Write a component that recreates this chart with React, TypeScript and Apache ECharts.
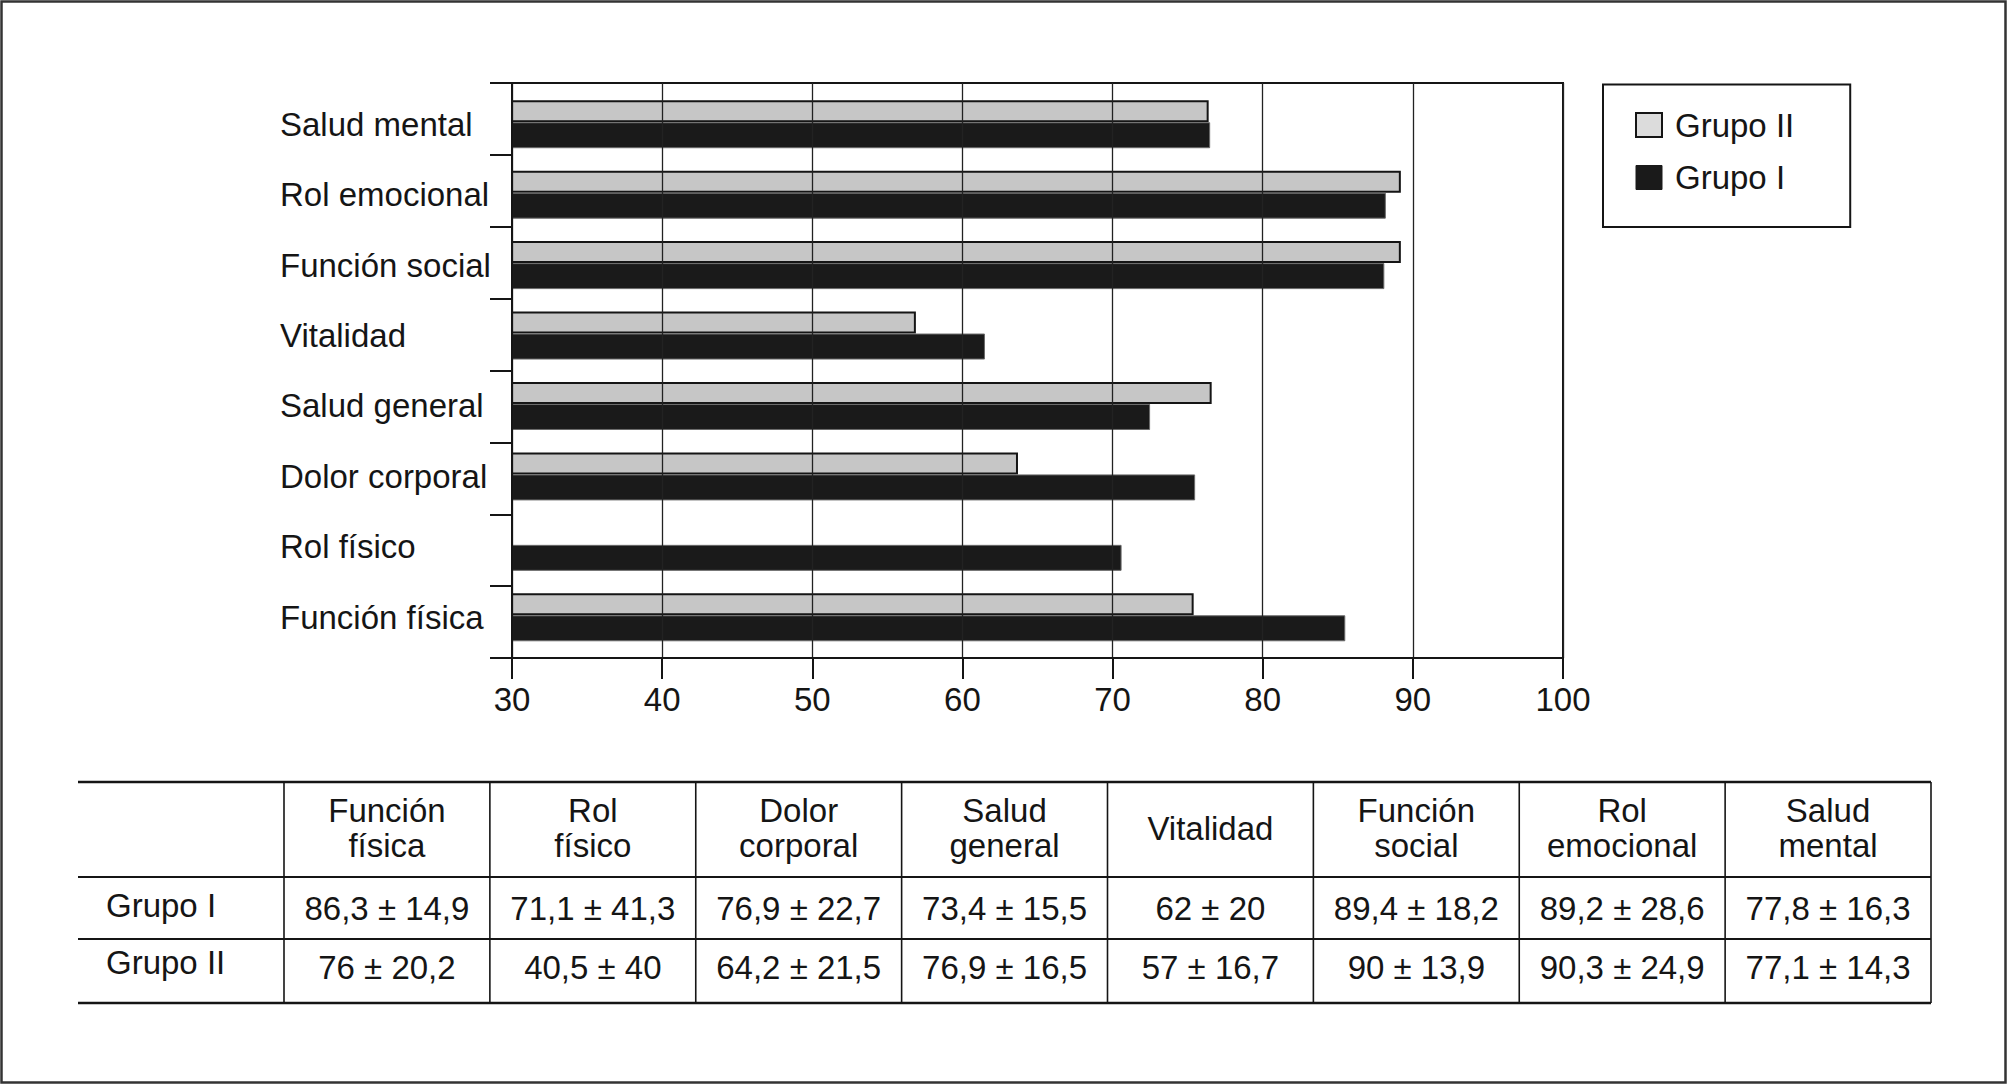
import React, { useEffect, useRef } from 'react';
import * as echarts from 'echarts';

const categories = [
  'Función física',
  'Rol físico',
  'Dolor corporal',
  'Salud general',
  'Vitalidad',
  'Función social',
  'Rol emocional',
  'Salud mental',
];
const grupoII: (number | null)[] = [75.4, null, 63.7, 76.6, 56.9, 89.2, 89.2, 76.4];
const grupoI: number[] = [85.5, 70.6, 75.5, 72.5, 61.5, 88.1, 88.2, 76.5];
const xMin = 30;
const xMax = 100;
const xInterval = 10;

const tableHeaders = [
  'Función\nfísica',
  'Rol\nfísico',
  'Dolor\ncorporal',
  'Salud\ngeneral',
  'Vitalidad',
  'Función\nsocial',
  'Rol\nemocional',
  'Salud\nmental',
];
const tableRowLabels = ['Grupo I', 'Grupo II'];
const tableGrupoI = ['86,3 ± 14,9', '71,1 ± 41,3', '76,9 ± 22,7', '73,4 ± 15,5', '62 ± 20', '89,4 ± 18,2', '89,2 ± 28,6', '77,8 ± 16,3'];
const tableGrupoII = ['76 ± 20,2', '40,5 ± 40', '64,2 ± 21,5', '76,9 ± 16,5', '57 ± 16,7', '90 ± 13,9', '90,3 ± 24,9', '77,1 ± 14,3'];

const FONT = "'Liberation Sans', Arial, Helvetica, sans-serif";
const INK = '#151515';

function buildTable(): any[] {
  const els: any[] = [];
  const left = 78;
  const firstRight = 284;
  const right = 1931;
  const colW = (right - firstRight) / tableHeaders.length;
  const yTop = 782;
  const yHead = 877;
  const yRow1 = 939;
  const yBottom = 1003;
  const hLine = (y: number, w: number) => ({
    type: 'line',
    shape: { x1: left, y1: y, x2: right, y2: y },
    style: { stroke: INK, lineWidth: w },
  });
  els.push(hLine(yTop, 2.5), hLine(yHead, 2), hLine(yRow1, 2), hLine(yBottom, 2.5));
  for (let i = 0; i <= tableHeaders.length; i++) {
    const x = firstRight + i * colW;
    els.push({
      type: 'line',
      shape: { x1: x, y1: yTop, x2: x, y2: yBottom },
      style: { stroke: INK, lineWidth: 1.6 },
    });
  }
  const txt = (text: string, x: number, y: number, align: string) => ({
    type: 'text',
    x,
    y,
    style: {
      text,
      fill: INK,
      fontSize: 33,
      fontFamily: FONT,
      align,
      verticalAlign: 'middle',
      lineHeight: 34.5,
    },
  });
  tableHeaders.forEach((h, i) => {
    els.push(txt(h, firstRight + (i + 0.5) * colW, 828, 'center'));
  });
  els.push(txt(tableRowLabels[0], 106, 905, 'left'));
  els.push(txt(tableRowLabels[1], 106, 962, 'left'));
  tableGrupoI.forEach((v, i) => els.push(txt(v, firstRight + (i + 0.5) * colW, 908, 'center')));
  tableGrupoII.forEach((v, i) => els.push(txt(v, firstRight + (i + 0.5) * colW, 967, 'center')));
  // outer frame
  els.push({
    type: 'rect',
    shape: { x: 1.5, y: 1.5, width: 2004, height: 1081 },
    style: { fill: 'none', stroke: '#333', lineWidth: 2.5 },
  });
  return els;
}

export default function App() {
  const ref = useRef<HTMLDivElement>(null);
  useEffect(() => {
    if (!ref.current) return;
    const chart = echarts.init(ref.current, undefined, { renderer: 'svg' });
    const option: any = {
      animation: false,
      backgroundColor: '#ffffff',
      grid: [
        { left: 512, right: 445, top: 89, bottom: 432.5, show: false },
        { left: 512, right: 445, top: 83, bottom: 427, show: true, borderColor: INK, borderWidth: 2 },
      ],
      legend: {
        orient: 'vertical',
        left: 1603,
        top: 84.5,
        padding: [24, 56, 33, 32],
        itemWidth: 26,
        itemHeight: 24,
        itemGap: 19.5,
        borderColor: INK,
        borderWidth: 2,
        icon: 'rect',
        data: [
          { name: 'Grupo II', itemStyle: { color: '#dcdcdc', borderColor: INK, borderWidth: 2 } },
          { name: 'Grupo I', itemStyle: { color: '#1a1a1a', borderColor: '#1a1a1a', borderWidth: 1 } },
        ],
        textStyle: { fontSize: 33, color: INK, fontFamily: FONT, padding: [0, 0, 0, 8] },
      },
      xAxis: [
        { type: 'value', gridIndex: 0, min: xMin, max: xMax, interval: xInterval, show: false },
        {
          type: 'value',
          gridIndex: 1,
          min: xMin,
          max: xMax,
          interval: xInterval,
          z: 5,
          axisLine: { show: true, lineStyle: { color: INK, width: 2 } },
          axisTick: { show: true, length: 21, lineStyle: { color: INK, width: 2 } },
          splitLine: { show: true, lineStyle: { color: '#222', width: 1.3 } },
          axisLabel: { fontSize: 33, color: INK, fontFamily: FONT, margin: 25 },
        },
      ],
      yAxis: [
        {
          type: 'category',
          gridIndex: 0,
          data: categories,
          axisLine: { show: false },
          axisTick: { show: false },
          axisLabel: { align: 'left', margin: 232, fontSize: 33, color: INK, fontFamily: FONT },
        },
        {
          type: 'category',
          gridIndex: 1,
          data: categories,
          z: 5,
          axisLine: { show: true, lineStyle: { color: INK, width: 2 } },
          axisTick: { show: true, length: 22, lineStyle: { color: INK, width: 2 } },
          axisLabel: { show: false },
        },
      ],
      series: [
        {
          name: 'Grupo II',
          type: 'bar',
          xAxisIndex: 0,
          yAxisIndex: 0,
          data: grupoII,
          barWidth: 22,
          barGap: '0%',
          itemStyle: { color: '#c6c6c6', borderColor: INK, borderWidth: 2 },
        },
        {
          name: 'Grupo I',
          type: 'bar',
          xAxisIndex: 0,
          yAxisIndex: 0,
          data: grupoI,
          barWidth: 26,
          barGap: '0%',
          itemStyle: { color: '#1a1a1a', borderColor: '#6a6a6a', borderWidth: 1 },
        },
      ],
      graphic: buildTable(),
    };
    chart.setOption(option);
    return () => chart.dispose();
  }, []);
  return <div ref={ref} style={{ position: 'absolute', left: 0, top: 0, width: 2008, height: 1085 }} />;
}
